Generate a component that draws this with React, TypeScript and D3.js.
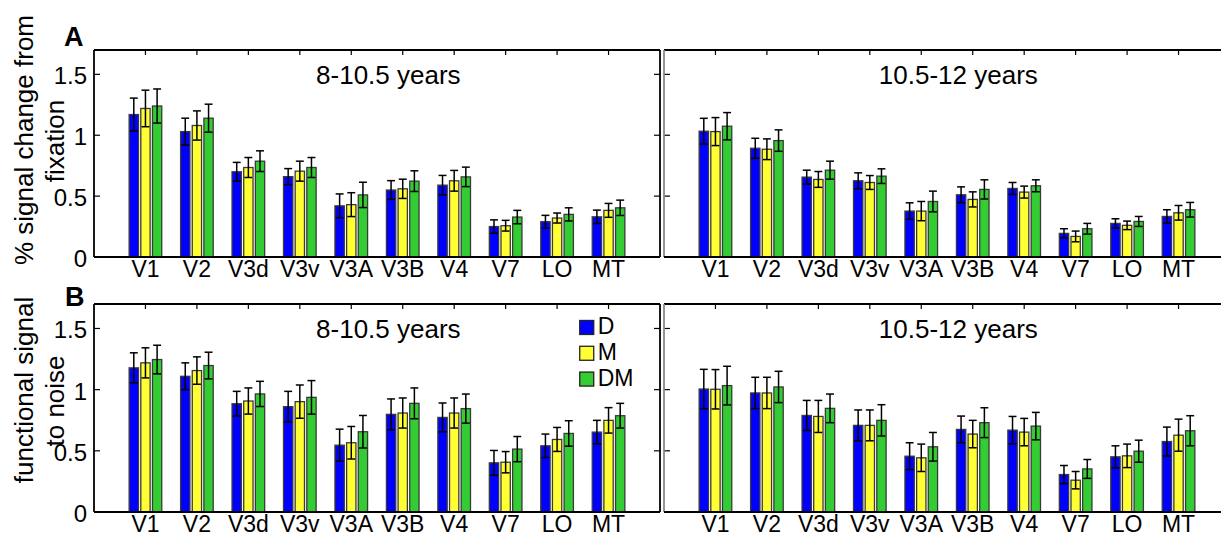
import React from 'react';
import * as d3 from 'd3';

const categories = ['V1', 'V2', 'V3d', 'V3v', 'V3A', 'V3B', 'V4', 'V7', 'LO', 'MT'];
const seriesNames = ['D', 'M', 'DM'];
const seriesColors = ['#0000ff', '#ffff33', '#33cc33'];
const yTicks = [0, 0.5, 1, 1.5];
const yTickLabels = ['0', '0.5', '1', '1.5'];
const groupTitles = ['8-10.5 years', '10.5-12 years'];

// A: % signal change from fixation  (rows = D, M, DM)
const pctYounger = [
  [1.17, 1.03, 0.70, 0.66, 0.42, 0.55, 0.59, 0.25, 0.29, 0.33],
  [1.22, 1.08, 0.735, 0.705, 0.43, 0.56, 0.626, 0.257, 0.32, 0.383],
  [1.24, 1.14, 0.787, 0.735, 0.51, 0.623, 0.658, 0.328, 0.35, 0.404],
];
const pctYoungerErr = [
  [0.135, 0.11, 0.077, 0.066, 0.098, 0.077, 0.08, 0.055, 0.052, 0.055],
  [0.15, 0.12, 0.082, 0.082, 0.098, 0.079, 0.085, 0.044, 0.041, 0.057],
  [0.14, 0.115, 0.085, 0.082, 0.104, 0.085, 0.08, 0.055, 0.054, 0.063],
];
const pctOlder = [
  [1.033, 0.893, 0.656, 0.626, 0.377, 0.511, 0.563, 0.194, 0.276, 0.333],
  [1.03, 0.885, 0.637, 0.612, 0.377, 0.473, 0.533, 0.169, 0.26, 0.363],
  [1.074, 0.956, 0.713, 0.664, 0.456, 0.555, 0.585, 0.232, 0.292, 0.388],
];
const pctOlderErr = [
  [0.106, 0.082, 0.057, 0.065, 0.068, 0.065, 0.049, 0.038, 0.038, 0.055],
  [0.115, 0.085, 0.065, 0.057, 0.079, 0.062, 0.049, 0.044, 0.035, 0.06],
  [0.112, 0.088, 0.074, 0.06, 0.085, 0.079, 0.049, 0.044, 0.041, 0.06],
];

// B: functional signal to noise
const fsnrYounger = [
  [1.178, 1.109, 0.885, 0.861, 0.546, 0.798, 0.773, 0.402, 0.541, 0.653],
  [1.219, 1.156, 0.907, 0.902, 0.566, 0.809, 0.809, 0.407, 0.593, 0.749],
  [1.246, 1.197, 0.965, 0.937, 0.656, 0.888, 0.845, 0.514, 0.642, 0.787],
];
const fsnrYoungerErr = [
  [0.123, 0.11, 0.101, 0.125, 0.131, 0.126, 0.118, 0.101, 0.096, 0.096],
  [0.123, 0.112, 0.107, 0.136, 0.133, 0.123, 0.123, 0.087, 0.098, 0.104],
  [0.117, 0.109, 0.103, 0.137, 0.133, 0.126, 0.119, 0.103, 0.104, 0.101],
];
const fsnrOlder = [
  [1.005, 0.973, 0.789, 0.708, 0.456, 0.675, 0.669, 0.306, 0.451, 0.576],
  [1.003, 0.973, 0.781, 0.708, 0.443, 0.637, 0.653, 0.26, 0.459, 0.628],
  [1.033, 1.022, 0.847, 0.749, 0.533, 0.73, 0.702, 0.352, 0.497, 0.664],
];
const fsnrOlderErr = [
  [0.161, 0.128, 0.123, 0.126, 0.11, 0.109, 0.112, 0.074, 0.09, 0.118],
  [0.161, 0.128, 0.131, 0.126, 0.112, 0.112, 0.112, 0.071, 0.096, 0.131],
  [0.158, 0.128, 0.117, 0.128, 0.117, 0.122, 0.112, 0.077, 0.09, 0.123],
];

const FONT = '"Liberation Sans", Arial, Helvetica, sans-serif';
const W = 1221;
const H = 537;
const cols = [
  [94, 660],
  [664, 1230],
];
const rows = [
  { top: 50, bottom: 257 },
  { top: 304, bottom: 512 },
];

type PanelProps = {
  x0: number;
  x1: number;
  top: number;
  bottom: number;
  values: number[][];
  errs: number[][];
  title: string;
  isLeft: boolean;
  legend: boolean;
};

function Panel({ x0, x1, top, bottom, values, errs, title, isLeft, legend }: PanelProps) {
  const x = d3.scaleBand<string>().domain(categories).range([x0, x1]).paddingInner(0).paddingOuter(0.5);
  const xl = d3.scaleLinear().domain([0, 11]).range([x0, x1]);
  const y = d3.scaleLinear().domain([0, 1.7]).range([bottom, top]);
  const step = x.step();
  const xs = d3
    .scaleBand<string>()
    .domain(seriesNames)
    .range([-0.317 * step, 0.317 * step])
    .paddingInner(0.2);
  const bw = xs.bandwidth();
  const cap = bw * 0.85;
  const center = (c: string) => (x(c) as number) + step / 2;

  return (
    <g>
      {/* bottom ticks (under bars) */}
      {categories.map((c) => (
        <line key={'bt' + c} x1={center(c)} x2={center(c)} y1={bottom} y2={bottom - 5} stroke="#000" strokeWidth={1.2} />
      ))}
      {seriesNames.map((s, si) =>
        categories.map((c, ci) => {
          const v = values[si][ci];
          const e = errs[si][ci];
          const bx = center(c) + (xs(s) as number);
          const mx = bx + bw / 2;
          return (
            <g key={s + c}>
              <rect
                x={bx}
                y={y(v)}
                width={bw}
                height={y(0) - y(v)}
                fill={seriesColors[si]}
                stroke="#3a3a3a"
                strokeWidth={1.3}
              />
              <line x1={mx} x2={mx} y1={y(v - e)} y2={y(v + e)} stroke="#000" strokeWidth={1.5} />
              <line x1={mx - cap / 2} x2={mx + cap / 2} y1={y(v + e)} y2={y(v + e)} stroke="#000" strokeWidth={1.5} />
              <line x1={mx - cap / 2} x2={mx + cap / 2} y1={y(v - e)} y2={y(v - e)} stroke="#000" strokeWidth={1.5} />
            </g>
          );
        })
      )}
      {/* top ticks */}
      {categories.map((c) => (
        <line key={'tt' + c} x1={center(c)} x2={center(c)} y1={top} y2={top + 5} stroke="#000" strokeWidth={1.2} />
      ))}
      {/* y ticks */}
      {yTicks.map((t) => (
        <g key={'yt' + t}>
          <line x1={x0} x2={x0 + 6} y1={y(t)} y2={y(t)} stroke="#000" strokeWidth={1.2} />
          <line x1={x1} x2={x1 - 6} y1={y(t)} y2={y(t)} stroke="#000" strokeWidth={1.2} />
        </g>
      ))}
      {/* frame */}
      <line x1={x0} x2={x1} y1={top} y2={top} stroke="#000" strokeWidth={1.8} />
      <line x1={x1} x2={x1} y1={top} y2={bottom} stroke="#000" strokeWidth={1.8} />
      <line x1={x0} x2={x0} y1={top} y2={bottom} stroke={isLeft ? '#000' : '#8a8a8a'} strokeWidth={1.8} />
      <line x1={x0} x2={x1} y1={bottom} y2={bottom} stroke="#000" strokeWidth={2} />
      {isLeft &&
        yTicks.map((t, i) => (
          <text
            key={'yl' + t}
            x={x0 - 7}
            y={y(t) + 1.5}
            textAnchor="end"
            dominantBaseline="central"
            fontSize={24}
            fontFamily={FONT}
          >
            {yTickLabels[i]}
          </text>
        ))}
      {categories.map((c) => (
        <text key={'xl' + c} x={center(c)} y={bottom + 20} textAnchor="middle" fontSize={23} fontFamily={FONT}>
          {c}
        </text>
      ))}
      <text x={xl(5.72)} y={y(1.42)} textAnchor="middle" fontSize={26} fontFamily={FONT}>
        {title}
      </text>
      {legend &&
        seriesNames.map((s, i) => (
          <g key={'lg' + s}>
            <rect
              x={xl(9.44)}
              y={y(1.5) - 8 + i * 25.8}
              width={14}
              height={14}
              fill={seriesColors[i]}
              stroke="#222"
              strokeWidth={1.3}
            />
            <text x={xl(9.44) + 18} y={y(1.5) + 6 + i * 25.8} fontSize={23} fontFamily={FONT}>
              {s}
            </text>
          </g>
        ))}
    </g>
  );
}

export default function App() {
  const data = [
    [pctYounger, pctYoungerErr, pctOlder, pctOlderErr],
    [fsnrYounger, fsnrYoungerErr, fsnrOlder, fsnrOlderErr],
  ];
  return (
    <svg
      width={W}
      height={H}
      viewBox={`0 0 ${W} ${H}`}
      style={{ position: 'absolute', left: 0, top: 0, background: '#fff', overflow: 'hidden' }}
    >
      <rect x={0} y={0} width={W} height={H} fill="#fff" />
      {rows.map((r, ri) => (
        <g key={'row' + ri}>
          {cols.map(([a, b], ci) => (
            <Panel
              key={'p' + ri + ci}
              x0={a}
              x1={b}
              top={r.top}
              bottom={r.bottom}
              values={data[ri][ci * 2]}
              errs={data[ri][ci * 2 + 1]}
              title={groupTitles[ci]}
              isLeft={ci === 0}
              legend={ri === 1 && ci === 0}
            />
          ))}
        </g>
      ))}
      <text x={64} y={46} fontSize={27} fontWeight="bold" fontFamily={FONT}>
        A
      </text>
      <text x={65} y={306} fontSize={27} fontWeight="bold" fontFamily={FONT}>
        B
      </text>
      <g fontSize={26} fontFamily={FONT} textAnchor="middle">
        <text transform="translate(33,140) rotate(-90)">% signal change from</text>
        <text transform="translate(64,141) rotate(-90)">fixation</text>
        <text transform="translate(33,390) rotate(-90)">functional signal</text>
        <text transform="translate(64,401) rotate(-90)">to noise</text>
      </g>
    </svg>
  );
}
